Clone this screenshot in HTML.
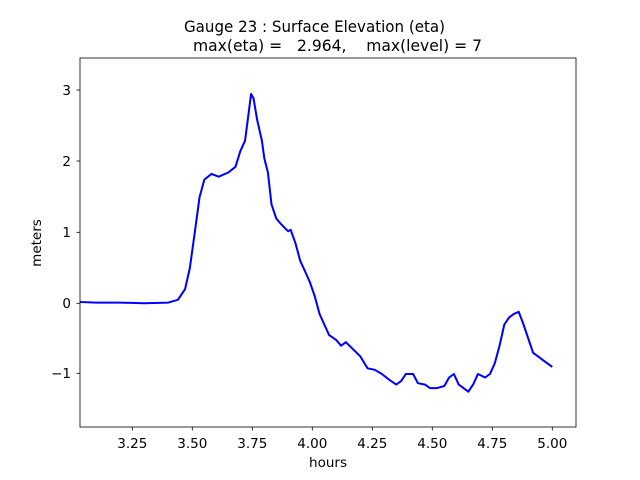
<!DOCTYPE html>
<html><head><meta charset="utf-8"><style>
body{margin:0;background:#fff}
svg{display:block}
text{font-family:"DejaVu Sans","Liberation Sans",sans-serif;fill:#000}
</style></head><body>
<svg width="640" height="480" viewBox="0 0 640 480" xmlns="http://www.w3.org/2000/svg">
<defs><clipPath id="c"><rect x="80" y="58" width="496" height="369"/></clipPath></defs>
<rect width="640" height="480" fill="#fff"/>
<text x="184" y="32" font-size="16" textLength="261" lengthAdjust="spacingAndGlyphs">Gauge 23 : Surface Elevation (eta)</text>
<text x="193" y="51" font-size="16" xml:space="preserve" textLength="289" lengthAdjust="spacingAndGlyphs">max(eta) =   2.964,    max(level) = 7</text>
<g stroke="#000" stroke-width="0.8">
<line x1="132.3" y1="427" x2="132.3" y2="430.5"/>
<line x1="192.3" y1="427" x2="192.3" y2="430.5"/>
<line x1="252.3" y1="427" x2="252.3" y2="430.5"/>
<line x1="312.3" y1="427" x2="312.3" y2="430.5"/>
<line x1="372.3" y1="427" x2="372.3" y2="430.5"/>
<line x1="432.3" y1="427" x2="432.3" y2="430.5"/>
<line x1="492.3" y1="427" x2="492.3" y2="430.5"/>
<line x1="552.3" y1="427" x2="552.3" y2="430.5"/>
<line x1="76.5" y1="373.3" x2="80" y2="373.3"/>
<line x1="76.5" y1="303.3" x2="80" y2="303.3"/>
<line x1="76.5" y1="232.3" x2="80" y2="232.3"/>
<line x1="76.5" y1="161" x2="80" y2="161"/>
<line x1="76.5" y1="90" x2="80" y2="90"/>
</g>
<g font-size="13.5" text-anchor="middle">
<text x="132.3" y="448">3.25</text><text x="192.3" y="448">3.50</text><text x="252.3" y="448">3.75</text>
<text x="312.3" y="448">4.00</text><text x="372.3" y="448">4.25</text><text x="432.3" y="448">4.50</text>
<text x="492.3" y="448">4.75</text><text x="552.3" y="448">5.00</text>
<text x="328" y="467">hours</text>
</g>
<g font-size="13.5" text-anchor="end">
<text x="71" y="378">−1</text><text x="71" y="308">0</text><text x="71" y="237">1</text>
<text x="71" y="166">2</text><text x="71" y="95">3</text>
</g>
<text x="0" y="0" font-size="13.5" text-anchor="middle" transform="translate(41,243) rotate(-90)">meters</text>
<g clip-path="url(#c)">
<polyline transform="matrix(1.0204 0 0 1 -8.11 1.3)" fill="none" stroke="#0000ff" stroke-width="2" stroke-linejoin="round" points="84.6,300.6 102.3,301.3 125.8,301.3 149.4,302 172.9,301.3 182.3,298.5 189.3,287.9 194,266.7 198.8,231.3 203.5,195.9 208.2,178.3 215.2,172.6 222.3,175.4 231.7,171.2 238.7,165.5 243.4,150 248.1,139.4 251.7,111.1 254,92.7 256.4,97 259.9,118.2 264.6,139.4 267,157.1 270.5,171.2 274,203 278.7,217.2 283.4,222.8 288.1,227.8 290.5,229.9 292.8,228.5 297.5,241.9 302.2,259.6 307,270.2 311.6,280.8 316.4,294.9 321.1,312.6 325.8,323.2 330.5,333.8 337.5,338.8 342.2,344.4 346.9,340.9 354,348 361,355 368.1,367 375.2,368.5 382.2,372.7 389.3,378.4 396.3,383.3 401,379.8 405.7,372.7 412.8,372.7 417.5,381.9 424.5,383.3 429.2,386.8 436.3,386.8 443.4,384.7 448.1,376.2 452.8,372.7 457.5,383.3 462.2,386.8 466.9,390.4 471.6,383.3 476.3,372.7 483.4,376.2 488.1,372.7 492.8,362.1 497.5,344.4 502.2,323.2 506.9,316.1 511.6,312.6 516.3,310.5 521,323.2 525.7,337.4 530.4,351.5 535.1,355 539.8,358.6 544.5,362.1 549.2,365.6"/>
</g>
<rect x="80" y="58" width="496" height="369" fill="none" stroke="#000" stroke-width="0.8"/>
</svg>
</body></html>
